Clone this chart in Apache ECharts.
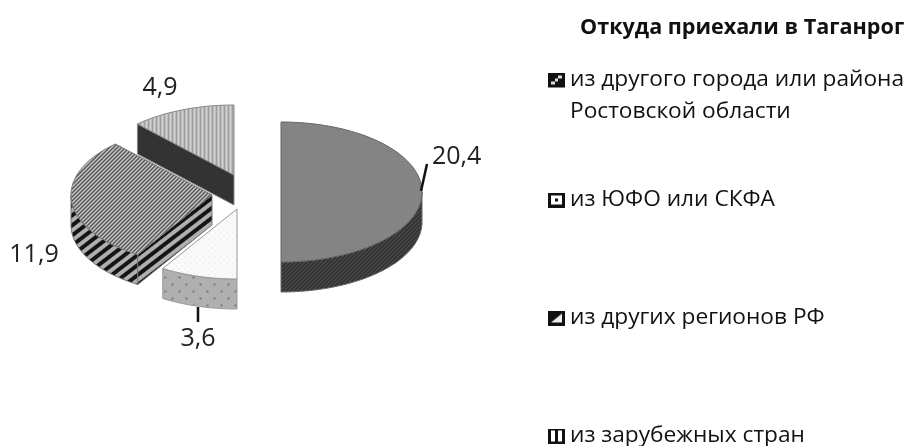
<!DOCTYPE html>
<html>
<head>
<meta charset="utf-8">
<style>
  html, body { margin: 0; padding: 0; background: #fff; }
  #chart { width: 914px; height: 446px; }
</style>
</head>
<body>
<div id="chart"></div>
<script src="https://cdn.jsdelivr.net/npm/echarts@6/dist/echarts.min.js"></script>
<script>
// data, in the clockwise order of the slices starting from 12 o'clock
const categories = [
  "из другого города или района\nРостовской области",
  "из ЮФО или СКФА",
  "из других регионов РФ",
  "из зарубежных стран",
];
const values = [20.4, 3.6, 11.9, 4.9];
const chartTitle = "Откуда приехали в Таганрог";

const FONT = '"Open Sans", "Noto Sans", sans-serif';
const RX = 141;
const RY = 70;
const DEPTH = 30;

// striped tile with soft edges, lines of kx*x/w + ky*y/h = const, dark/light are grey levels
function stripes(w, h, kx, ky, dark, light) {
  const c = document.createElement("canvas");
  c.width = w;
  c.height = h;
  const ctx = c.getContext("2d");
  const img = ctx.createImageData(w, h);
  for (let x = 0; x < w; x++) {
    for (let y = 0; y < h; y++) {
      const t = (kx * x) / w + (ky * y) / h;
      const s = Math.max(0, Math.min(1, 0.5 + 1.2 * Math.cos(2 * Math.PI * t)));
      const v = light + (dark - light) * s;
      const p = (y * w + x) * 4;
      img.data[p] = img.data[p + 1] = img.data[p + 2] = v;
      img.data[p + 3] = 255;
    }
  }
  ctx.putImageData(img, 0, 0);
  return { image: c, repeat: "repeat" };
}

// dotted tile, dots sit on a staggered grid
function dots(size, base, dot, r) {
  const c = document.createElement("canvas");
  c.width = size;
  c.height = size;
  const ctx = c.getContext("2d");
  ctx.fillStyle = base;
  ctx.fillRect(0, 0, size, size);
  ctx.fillStyle = dot;
  ctx.fillRect(size / 4, size / 4, r, r);
  ctx.fillRect((3 * size) / 4, (3 * size) / 4, r, r);
  return { image: c, repeat: "repeat" };
}

// per slice look, same order as values
const sliceStyles = [
  {
    center: [281, 192],
    z: 4,
    top: dots(4, "#858585", "#7c7c7c", 1),
    wall: stripes(4, 4, 1, 1, 46, 74),
    face: "#444",
    stroke: "#666",
    labelAt: [432, 157],
    labelAlign: "left",
    leader: [[421, 191], [427, 164]],
  },
  {
    center: [237, 209],
    z: 3,
    top: dots(6, "#fafafa", "#dcdcdc", 1),
    wall: dots(14, "#b0b0b0", "#777", 2),
    face: "#999",
    stroke: "#999",
    labelAt: [198, 339],
    labelAlign: "center",
    leader: [[198, 307], [198, 322]],
  },
  {
    center: [212, 195],
    z: 2,
    top: stripes(4, 4, 1, 1, 85, 200),
    wall: stripes(13, 10, 1, 1, 20, 175),
    face: stripes(13, 10, 1, 1, 20, 175),
    stroke: "#777",
    labelAt: [34, 255],
    labelAlign: "center",
  },
  {
    center: [234, 175],
    z: 1,
    top: stripes(4, 4, 1, 0, 160, 212),
    wall: "#333",
    face: "#333",
    stroke: "#888",
    labelAt: [160, 88],
    labelAlign: "center",
  },
];

// legend markers drawn on a canvas, height above 15 leaves room under the marker
function marker(paint, height) {
  const c = document.createElement("canvas");
  c.width = 17;
  c.height = height;
  const ctx = c.getContext("2d");
  ctx.fillStyle = "#111";
  ctx.fillRect(0, 0, 17, 15);
  paint(ctx);
  return "image://" + c.toDataURL();
}
const legendMarks = [
  marker((g) => {
    g.fillStyle = "#ddd";
    g.fillRect(10, 3, 4, 3);
    g.fillRect(3, 9, 4, 3);
    g.fillRect(7, 6, 3, 3);
  }, 47),
  marker((g) => {
    g.fillStyle = "#fff";
    g.fillRect(3, 3, 11, 9);
    g.fillStyle = "#111";
    g.fillRect(7, 6, 3, 3);
  }, 15),
  marker((g) => {
    g.fillStyle = "#eee";
    g.beginPath();
    g.moveTo(14, 3);
    g.lineTo(14, 12);
    g.lineTo(3, 12);
    g.closePath();
    g.fill();
  }, 15),
  marker((g) => {
    g.fillStyle = "#fff";
    g.fillRect(3, 2, 4, 11);
    g.fillRect(10, 2, 4, 11);
  }, 15),
];
const legendHeights = [47, 15, 15, 15];
const legendTops = [64, 184, 302, 420];

const total = values.reduce((a, b) => a + b, 0);

function pointOn(center, deg, dy) {
  const a = (deg * Math.PI) / 180;
  return [center[0] + RX * Math.sin(a), center[1] - RY * Math.cos(a) + (dy || 0)];
}

function arc(center, from, to, dy) {
  const pts = [];
  const n = Math.max(2, Math.ceil(Math.abs(to - from) / 2));
  for (let i = 0; i <= n; i++) {
    pts.push(pointOn(center, from + ((to - from) * i) / n, dy));
  }
  return pts;
}

function renderSlice(index) {
  const st = sliceStyles[index];
  const before = values.slice(0, index).reduce((a, b) => a + b, 0);
  const from = (before / total) * 360;
  const to = ((before + values[index]) / total) * 360;
  const c = st.center;
  const children = [];
  const line = { stroke: st.stroke, lineWidth: 1 };

  // outer wall, only the part facing the viewer
  const wFrom = Math.max(from, 90);
  const wTo = Math.min(to, 270);
  if (wTo > wFrom) {
    const pts = arc(c, wFrom, wTo, 0).concat(arc(c, wTo, wFrom, DEPTH));
    children.push({
      type: "polygon",
      shape: { points: pts },
      style: { fill: st.wall, ...line },
    });
  }
  // cut face along the starting radius
  if (from > 180 && from < 360) {
    const e = pointOn(c, from, 0);
    children.push({
      type: "polygon",
      shape: { points: [c, e, [e[0], e[1] + DEPTH], [c[0], c[1] + DEPTH]] },
      style: { fill: st.face, ...line },
    });
  }
  // top surface
  children.push({
    type: "polygon",
    shape: { points: [c].concat(arc(c, from, to, 0)) },
    style: { fill: st.top, ...line },
  });
  if (st.leader) {
    children.push({
      type: "line",
      shape: {
        x1: st.leader[0][0],
        y1: st.leader[0][1],
        x2: st.leader[1][0],
        y2: st.leader[1][1],
      },
      style: { stroke: "#111", lineWidth: 2.5 },
    });
  }
  children.push({
    type: "text",
    style: {
      text: String(values[index]).replace(".", ","),
      x: st.labelAt[0],
      y: st.labelAt[1],
      align: st.labelAlign,
      verticalAlign: "middle",
      font: "25px " + FONT,
      fill: "#222",
    },
  });
  return { type: "group", children: children };
}

const chart = echarts.init(document.getElementById("chart"));
chart.setOption({
  backgroundColor: "#fff",
  animation: false,
  title: {
    text: chartTitle,
    left: 580,
    top: 17,
    padding: 0,
    textStyle: { fontFamily: FONT, fontSize: 21.6, fontWeight: "bold", color: "#111" },
  },
  // one legend per entry, the reference spaces them unevenly
  legend: categories.map((name, i) => ({
    left: 548,
    top: legendTops[i],
    padding: 0,
    orient: "vertical",
    selectedMode: false,
    itemWidth: 17,
    itemHeight: legendHeights[i],
    itemGap: 0,
    data: [{ name: name, icon: legendMarks[i] }],
    textStyle: { fontFamily: FONT, fontSize: 22.7, color: "#111", lineHeight: 32 },
  })),
  series: values.map((v, i) => ({
    type: "custom",
    name: categories[i],
    coordinateSystem: "none",
    silent: true,
    z: sliceStyles[i].z,
    data: [v],
    renderItem: () => renderSlice(i),
  })),
});
</script>
</body>
</html>
